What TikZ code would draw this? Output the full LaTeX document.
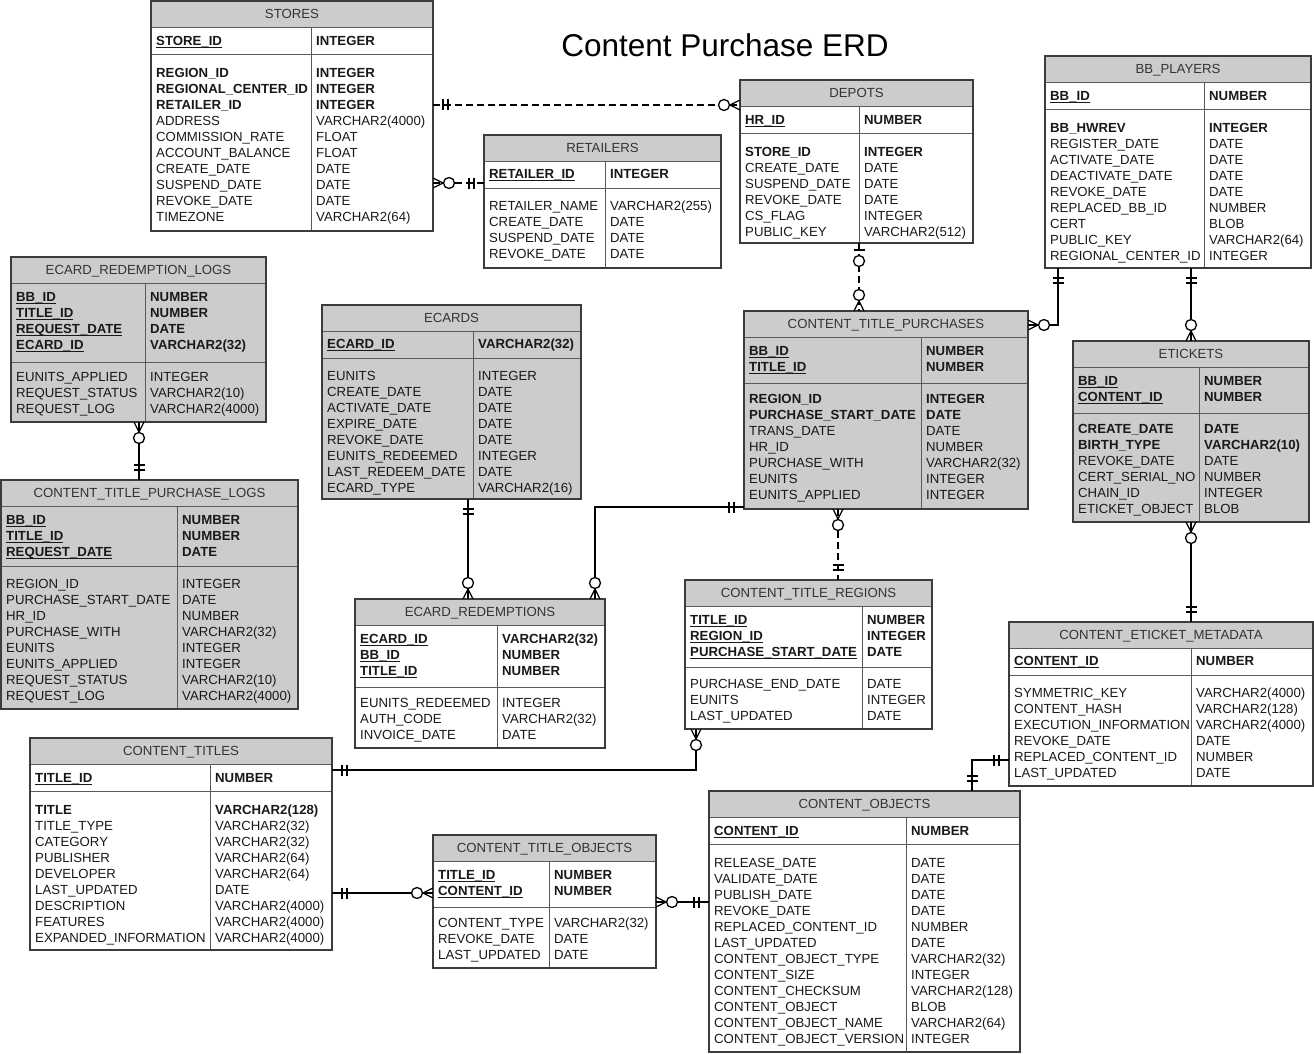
\documentclass[tikz,border=0pt]{standalone}
\usepackage{fontspec}
\setmainfont{Liberation Sans}
\usepackage{tikz}
\usetikzlibrary{calc}

\definecolor{headgray}{RGB}{204,204,204}
\definecolor{framegray}{RGB}{60,60,60}
\definecolor{rulegray}{RGB}{90,90,90}
\definecolor{erdtext}{RGB}{25,25,25}

\newsavebox\keybox
\newcommand\keyf[1]{\sbox\keybox{\textbf{#1}}\rlap{\rule[-2.8pt]{\wd\keybox}{1.1pt}}\usebox\keybox}

\tikzset{
	entity/.style={inner sep=0pt, outer sep=0pt, anchor=north west},
	erdframe/.style={draw=framegray, line width=1.1pt},
	erdrule/.style={draw=rulegray, line width=0.9pt},
	headtxt/.style={anchor=base, inner sep=0pt, text=black!80, font=\fontsize{13.2}{16}\selectfont},
	erdcol/.style={anchor=north west, align=left, inner sep=0pt, text=erdtext, font=\fontsize{13.2}{16}\selectfont},
	rel/.style={draw=black, line width=1.3pt},
	dashrel/.style={rel, dash pattern=on 7pt off 4pt},
	zmany/.pic={
		\draw[rel, solid] (-10,0) -- (0,5) (-10,0) -- (0,-5);
		\draw[rel, solid, fill=white] (-16,0) circle[radius=5.5pt];
	},
	onlyone/.pic={
		\draw[rel, solid] (-10,-5.5) -- (-10,5.5) (-15,-5.5) -- (-15,5.5);
	},
	zone/.pic={
		\draw[rel, solid] (-7,-5.5) -- (-7,5.5);
		\draw[rel, solid, fill=white] (-18,0) circle[radius=5.5pt];
	}
}

% fill, name, title, (left,top), (right,bottom), key line, column line
\def\erd#1#2#3(#4,#5)(#6,#7)#8#9{%
	\node[entity, fill=#1, minimum width={#6-#4}, minimum height={#7-#5}] (#2) at (#4,#5) {};
	\fill[headgray] (#4,#5) rectangle (#6,#5+26);
	\draw[erdrule] (#4,#5+26) -- (#6,#5+26) (#4,#8) -- (#6,#8) (#9,#5+26) -- (#9,#7);
	\draw[erdframe] (#4,#5) rectangle (#6,#7);
	\node[headtxt] (#2-head) at ({(#4+#6)/2},#5+17.8) {#3};
}
% name, left x, right x, first row, left column, right column
\newcommand\erdcols[6]{%
	\node[erdcol] (#1-l) at (#2,#4-6.2) {\strut#5};
	\node[erdcol] (#1-r) at (#3,#4-6.2) {\strut#6};
}

\begin{document}
\begin{tikzpicture}[x=1pt, y=-1pt]
	\useasboundingbox (0,0) rectangle (1314,1054);
	\fill[white] (0,0) rectangle (1314,1054);

	\node[anchor=base, inner sep=0pt, font=\fontsize{31.5}{36}\selectfont] (erd-title) at (725,57) {Content Purchase ERD};

	\erd{white}{stores}{STORES}(151,1)(433,231){54}{311}
	\erdcols{stores-pk}{156}{316}{40}{\keyf{STORE\_ID}}{\textbf{INTEGER}}
	\erdcols{stores-at}{156}{316}{72}{\textbf{REGION\_ID}\\\textbf{REGIONAL\_CENTER\_ID}\\\textbf{RETAILER\_ID}\\ADDRESS\\COMMISSION\_RATE\\ACCOUNT\_BALANCE\\CREATE\_DATE\\SUSPEND\_DATE\\REVOKE\_DATE\\TIMEZONE}{\textbf{INTEGER}\\\textbf{INTEGER}\\\textbf{INTEGER}\\VARCHAR2(4000)\\FLOAT\\FLOAT\\DATE\\DATE\\DATE\\VARCHAR2(64)}

	\erd{white}{depots}{DEPOTS}(740,80)(973,243){133}{859}
	\erdcols{depots-pk}{745}{864}{119}{\keyf{HR\_ID}}{\textbf{NUMBER}}
	\erdcols{depots-at}{745}{864}{151}{\textbf{STORE\_ID}\\CREATE\_DATE\\SUSPEND\_DATE\\REVOKE\_DATE\\CS\_FLAG\\PUBLIC\_KEY}{\textbf{INTEGER}\\DATE\\DATE\\DATE\\INTEGER\\VARCHAR2(512)}

	\erd{white}{retailers}{RETAILERS}(484,135)(721,268){188}{605}
	\erdcols{retailers-pk}{489}{610}{173}{\keyf{RETAILER\_ID}}{\textbf{INTEGER}}
	\erdcols{retailers-at}{489}{610}{205}{RETAILER\_NAME\\CREATE\_DATE\\SUSPEND\_DATE\\REVOKE\_DATE}{VARCHAR2(255)\\DATE\\DATE\\DATE}

	\erd{white}{bbp}{BB\_PLAYERS}(1045,56)(1311,268){109}{1204}
	\erdcols{bbp-pk}{1050}{1209}{95}{\keyf{BB\_ID}}{\textbf{NUMBER}}
	\erdcols{bbp-at}{1050}{1209}{127}{\textbf{BB\_HWREV}\\REGISTER\_DATE\\ACTIVATE\_DATE\\DEACTIVATE\_DATE\\REVOKE\_DATE\\REPLACED\_BB\_ID\\CERT\\PUBLIC\_KEY\\REGIONAL\_CENTER\_ID}{\textbf{INTEGER}\\DATE\\DATE\\DATE\\DATE\\NUMBER\\BLOB\\VARCHAR2(64)\\INTEGER}

	\erd{headgray}{erl}{ECARD\_REDEMPTION\_LOGS}(11,257)(266,422){362}{145}
	\erdcols{erl-pk}{16}{150}{296}{\keyf{BB\_ID}\\\keyf{TITLE\_ID}\\\keyf{REQUEST\_DATE}\\\keyf{ECARD\_ID}}{\textbf{NUMBER}\\\textbf{NUMBER}\\\textbf{DATE}\\\textbf{VARCHAR2(32)}}
	\erdcols{erl-at}{16}{150}{376}{EUNITS\_APPLIED\\REQUEST\_STATUS\\REQUEST\_LOG}{INTEGER\\VARCHAR2(10)\\VARCHAR2(4000)}

	\erd{headgray}{ecards}{ECARDS}(322,305)(581,499){358}{473}
	\erdcols{ecards-pk}{327}{478}{343}{\keyf{ECARD\_ID}}{\textbf{VARCHAR2(32)}}
	\erdcols{ecards-at}{327}{478}{375}{EUNITS\\CREATE\_DATE\\ACTIVATE\_DATE\\EXPIRE\_DATE\\REVOKE\_DATE\\EUNITS\_REDEEMED\\LAST\_REDEEM\_DATE\\ECARD\_TYPE}{INTEGER\\DATE\\DATE\\DATE\\DATE\\INTEGER\\DATE\\VARCHAR2(16)}

	\erd{headgray}{ctp}{CONTENT\_TITLE\_PURCHASES}(744,311)(1028,509){383}{921}
	\erdcols{ctp-pk}{749}{926}{350}{\keyf{BB\_ID}\\\keyf{TITLE\_ID}}{\textbf{NUMBER}\\\textbf{NUMBER}}
	\erdcols{ctp-at}{749}{926}{398}{\textbf{REGION\_ID}\\\textbf{PURCHASE\_START\_DATE}\\TRANS\_DATE\\HR\_ID\\PURCHASE\_WITH\\EUNITS\\EUNITS\_APPLIED}{\textbf{INTEGER}\\\textbf{DATE}\\DATE\\NUMBER\\VARCHAR2(32)\\INTEGER\\INTEGER}

	\erd{headgray}{etk}{ETICKETS}(1073,341)(1309,522){413}{1199}
	\erdcols{etk-pk}{1078}{1204}{380}{\keyf{BB\_ID}\\\keyf{CONTENT\_ID}}{\textbf{NUMBER}\\\textbf{NUMBER}}
	\erdcols{etk-at}{1078}{1204}{428}{\textbf{CREATE\_DATE}\\\textbf{BIRTH\_TYPE}\\REVOKE\_DATE\\CERT\_SERIAL\_NO\\CHAIN\_ID\\ETICKET\_OBJECT}{\textbf{DATE}\\\textbf{VARCHAR2(10)}\\DATE\\NUMBER\\INTEGER\\BLOB}

	\erd{headgray}{ctpl}{CONTENT\_TITLE\_PURCHASE\_LOGS}(1,480)(298,709){566}{177}
	\erdcols{ctpl-pk}{6}{182}{519}{\keyf{BB\_ID}\\\keyf{TITLE\_ID}\\\keyf{REQUEST\_DATE}}{\textbf{NUMBER}\\\textbf{NUMBER}\\\textbf{DATE}}
	\erdcols{ctpl-at}{6}{182}{583}{REGION\_ID\\PURCHASE\_START\_DATE\\HR\_ID\\PURCHASE\_WITH\\EUNITS\\EUNITS\_APPLIED\\REQUEST\_STATUS\\REQUEST\_LOG}{INTEGER\\DATE\\NUMBER\\VARCHAR2(32)\\INTEGER\\INTEGER\\VARCHAR2(10)\\VARCHAR2(4000)}

	\erd{white}{er}{ECARD\_REDEMPTIONS}(355,599)(605,748){687}{497}
	\erdcols{er-pk}{360}{502}{638}{\keyf{ECARD\_ID}\\\keyf{BB\_ID}\\\keyf{TITLE\_ID}}{\textbf{VARCHAR2(32)}\\\textbf{NUMBER}\\\textbf{NUMBER}}
	\erdcols{er-at}{360}{502}{702}{EUNITS\_REDEEMED\\AUTH\_CODE\\INVOICE\_DATE}{INTEGER\\VARCHAR2(32)\\DATE}

	\erd{white}{ctr}{CONTENT\_TITLE\_REGIONS}(685,580)(932,729){667}{862}
	\erdcols{ctr-pk}{690}{867}{619}{\keyf{TITLE\_ID}\\\keyf{REGION\_ID}\\\keyf{PURCHASE\_START\_DATE}}{\textbf{NUMBER}\\\textbf{INTEGER}\\\textbf{DATE}}
	\erdcols{ctr-at}{690}{867}{683}{PURCHASE\_END\_DATE\\EUNITS\\LAST\_UPDATED}{DATE\\INTEGER\\DATE}

	\erd{white}{cem}{CONTENT\_ETICKET\_METADATA}(1009,622)(1313,786){675}{1191}
	\erdcols{cem-pk}{1014}{1196}{660}{\keyf{CONTENT\_ID}}{\textbf{NUMBER}}
	\erdcols{cem-at}{1014}{1196}{692}{SYMMETRIC\_KEY\\CONTENT\_HASH\\EXECUTION\_INFORMATION\\REVOKE\_DATE\\REPLACED\_CONTENT\_ID\\LAST\_UPDATED}{VARCHAR2(4000)\\VARCHAR2(128)\\VARCHAR2(4000)\\DATE\\NUMBER\\DATE}

	\erd{white}{ct}{CONTENT\_TITLES}(30,738)(332,950){791}{210}
	\erdcols{ct-pk}{35}{215}{777}{\keyf{TITLE\_ID}}{\textbf{NUMBER}}
	\erdcols{ct-at}{35}{215}{809}{\textbf{TITLE}\\TITLE\_TYPE\\CATEGORY\\PUBLISHER\\DEVELOPER\\LAST\_UPDATED\\DESCRIPTION\\FEATURES\\EXPANDED\_INFORMATION}{\textbf{VARCHAR2(128)}\\VARCHAR2(32)\\VARCHAR2(32)\\VARCHAR2(64)\\VARCHAR2(64)\\DATE\\VARCHAR2(4000)\\VARCHAR2(4000)\\VARCHAR2(4000)}

	\erd{white}{cto}{CONTENT\_TITLE\_OBJECTS}(433,835)(656,968){907}{549}
	\erdcols{cto-pk}{438}{554}{874}{\keyf{TITLE\_ID}\\\keyf{CONTENT\_ID}}{\textbf{NUMBER}\\\textbf{NUMBER}}
	\erdcols{cto-at}{438}{554}{922}{CONTENT\_TYPE\\REVOKE\_DATE\\LAST\_UPDATED}{VARCHAR2(32)\\DATE\\DATE}

	\erd{white}{co}{CONTENT\_OBJECTS}(709,791)(1020,1052){844}{906}
	\erdcols{co-pk}{714}{911}{830}{\keyf{CONTENT\_ID}}{\textbf{NUMBER}}
	\erdcols{co-at}{714}{911}{862}{RELEASE\_DATE\\VALIDATE\_DATE\\PUBLISH\_DATE\\REVOKE\_DATE\\REPLACED\_CONTENT\_ID\\LAST\_UPDATED\\CONTENT\_OBJECT\_TYPE\\CONTENT\_SIZE\\CONTENT\_CHECKSUM\\CONTENT\_OBJECT\\CONTENT\_OBJECT\_NAME\\CONTENT\_OBJECT\_VERSION}{DATE\\DATE\\DATE\\DATE\\NUMBER\\DATE\\VARCHAR2(32)\\INTEGER\\VARCHAR2(128)\\BLOB\\VARCHAR2(64)\\INTEGER}

	% relationships
	\draw[dashrel] (stores.east |- 0,105) coordinate (sd-a) -- (depots.west |- 0,105) coordinate (sd-b);
	\draw[dashrel] (stores.east |- 0,183) coordinate (sr-a) -- (retailers.west |- 0,183) coordinate (sr-b);
	\draw[dashrel] (depots.south -| 859,0) coordinate (dp-a) -- (ctp.north -| 859,0) coordinate (dp-b);
	\draw[rel] (bbp.south -| 1058,0) coordinate (bp-a) |- (ctp.east |- 0,325) coordinate (bp-b);
	\draw[rel] (bbp.south -| 1191,0) coordinate (be-a) -- (etk.north -| 1191,0) coordinate (be-b);
	\draw[rel] (etk.south -| 1191,0) coordinate (em-a) -- (cem.north -| 1191,0) coordinate (em-b);
	\draw[rel] (erl.south -| 139,0) coordinate (el-a) -- (ctpl.north -| 139,0) coordinate (el-b);
	\draw[rel] (ecards.south -| 468,0) coordinate (ee-a) -- (er.north -| 468,0) coordinate (ee-b);
	\draw[rel] (ctp.west |- 0,507) coordinate (pe-a) -| (er.north -| 595,0) coordinate (pe-b);
	\draw[dashrel] (ctp.south -| 838,0) coordinate (pr-a) -- (ctr.north -| 838,0) coordinate (pr-b);
	\draw[rel] (ct.east |- 0,770) coordinate (tr-a) -| (ctr.south -| 696,0) coordinate (tr-b);
	\draw[rel] (ct.east |- 0,893) coordinate (to-a) -- (cto.west |- 0,893) coordinate (to-b);
	\draw[rel] (cto.east |- 0,902) coordinate (oc-a) -- (co.west |- 0,902) coordinate (oc-b);
	\draw[rel] (co.north -| 972,0) coordinate (cm-a) |- (cem.west |- 0,760) coordinate (cm-b);

	\pic[rotate=180] at (sd-a) {onlyone};
	\pic at (sd-b) {zmany};
	\pic[rotate=180] at (sr-a) {zmany};
	\pic at (sr-b) {onlyone};
	\pic[rotate=90] at (dp-a) {zone};
	\pic[rotate=-90] at (dp-b) {zmany};
	\pic[rotate=90] at (bp-a) {onlyone};
	\pic[rotate=180] at (bp-b) {zmany};
	\pic[rotate=90] at (be-a) {onlyone};
	\pic[rotate=-90] at (be-b) {zmany};
	\pic[rotate=90] at (em-a) {zmany};
	\pic[rotate=-90] at (em-b) {onlyone};
	\pic[rotate=90] at (el-a) {zmany};
	\pic[rotate=-90] at (el-b) {onlyone};
	\pic[rotate=90] at (ee-a) {onlyone};
	\pic[rotate=-90] at (ee-b) {zmany};
	\pic at (pe-a) {onlyone};
	\pic[rotate=-90] at (pe-b) {zmany};
	\pic[rotate=90] at (pr-a) {zmany};
	\pic[rotate=-90] at (pr-b) {onlyone};
	\pic[rotate=180] at (tr-a) {onlyone};
	\pic[rotate=90] at (tr-b) {zmany};
	\pic[rotate=180] at (to-a) {onlyone};
	\pic at (to-b) {zmany};
	\pic[rotate=180] at (oc-a) {zmany};
	\pic at (oc-b) {onlyone};
	\pic[rotate=-90] at (cm-a) {onlyone};
	\pic at (cm-b) {onlyone};
\end{tikzpicture}
\end{document}
